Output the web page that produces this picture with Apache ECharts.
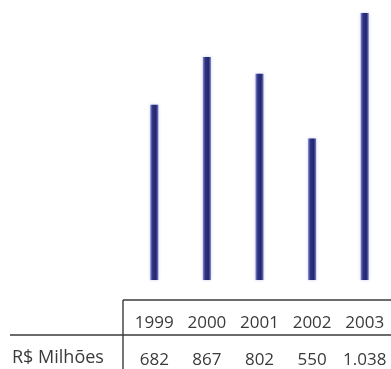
<!DOCTYPE html>
<html>
<head>
<meta charset="utf-8">
<script src="https://cdn.jsdelivr.net/npm/echarts@6/dist/echarts.min.js"></script>
<style>
  html, body { margin: 0; padding: 0; background: #ffffff; }
  #chart { width: 391px; height: 369px; }
</style>
</head>
<body>
<div id="chart"></div>
<script>
// Receita anual, em milhões de reais
var years = ['1999', '2000', '2001', '2002', '2003'];
var values = [682, 867, 802, 550, 1038];
var valueLabels = ['682', '867', '802', '550', '1.038'];
var rowTitle = 'R$ Milhões';

var textColor = '#3a3a3a';
var fontFamily = '"Open Sans", "Noto Sans", sans-serif';
var lineColor = '#3a3a3a';

var chart = echarts.init(document.getElementById('chart'), null, { renderer: 'canvas' });

var barColor = new echarts.graphic.LinearGradient(0, 0, 1, 0, [
  { offset: 0, color: '#7f86cc' },
  { offset: 0.3, color: '#2e3182' },
  { offset: 0.7, color: '#24276c' },
  { offset: 1, color: '#737ac4' }
]);

chart.setOption({
  animation: false,
  backgroundColor: '#ffffff',
  grid: { left: 128, right: -3, top: 10, bottom: 89, containLabel: false },
  xAxis: [
    {
      type: 'category',
      data: years,
      position: 'bottom',
      axisLine: { show: false },
      axisTick: { show: false },
      axisLabel: {
        interval: 0,
        margin: 35,
        color: textColor,
        fontFamily: fontFamily,
        fontSize: 17
      }
    },
    {
      type: 'category',
      data: valueLabels,
      position: 'bottom',
      offset: 37,
      axisLine: { show: false },
      axisTick: { show: false },
      axisLabel: {
        interval: 0,
        margin: 35,
        color: textColor,
        fontFamily: fontFamily,
        fontSize: 17
      }
    }
  ],
  yAxis: {
    type: 'value',
    min: 0,
    max: 1050,
    show: false,
    splitLine: { show: false }
  },
  series: [
    {
      type: 'bar',
      data: values,
      barWidth: 8,
      itemStyle: {
        color: barColor,
        shadowColor: 'rgba(90,100,210,0.35)',
        shadowBlur: 3
      }
    }
  ],
  graphic: [
    {
      type: 'line',
      shape: { x1: 123, y1: 300, x2: 391, y2: 300 },
      style: { stroke: lineColor, lineWidth: 1.4 }
    },
    {
      type: 'line',
      shape: { x1: 123, y1: 300, x2: 123, y2: 369 },
      style: { stroke: lineColor, lineWidth: 1.4 }
    },
    {
      type: 'line',
      shape: { x1: 10, y1: 335, x2: 391, y2: 335 },
      style: { stroke: lineColor, lineWidth: 1.4 }
    },
    {
      type: 'text',
      left: 12,
      top: 349,
      style: {
        text: rowTitle,
        fill: textColor,
        font: '18px ' + fontFamily
      }
    }
  ]
});
</script>
</body>
</html>
